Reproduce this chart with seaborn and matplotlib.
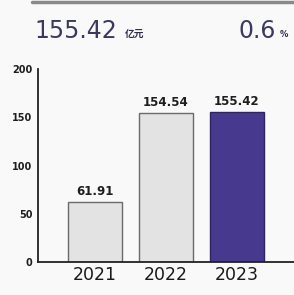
import matplotlib
matplotlib.use("Agg")
import matplotlib.pyplot as plt
import seaborn as sns
import pandas as pd

years = ["2021", "2022", "2023"]
values = [61.91, 154.54, 155.42]
value_labels = ["61.91", "154.54", "155.42"]
yticks = [0, 50, 100, 150, 200]
headline_value = "155.42"
headline_unit = "亿元"
growth_value = "0.6"
growth_unit = "%"

bar_colors = ["#e3e3e3", "#e3e3e3", "#47398e"]
edge_colors = ["#6a6a6a", "#6a6a6a", "#2e2560"]

sns.set_theme(style="white")
plt.rcParams['font.family'] = ['DejaVu Sans', 'Noto Sans CJK SC']

df = pd.DataFrame({"year": years, "value": values})

fig = plt.figure(figsize=(2.94, 2.95), dpi=100)
fig.patch.set_facecolor("#f9f9f9")
ax = fig.add_axes([38/294, 1 - 262/295, 1 - 38/294, 193/295])
ax.set_facecolor("none")

sns.barplot(data=df, x="year", y="value", hue="year", palette=bar_colors,
            legend=False, width=0.76, ax=ax, saturation=1)
for patch, ec in zip(ax.patches, edge_colors):
    patch.set_edgecolor(ec)
    patch.set_linewidth(1.0)

for i, (v, lab) in enumerate(zip(values, value_labels)):
    ax.text(i, v + 4, lab, ha="center", va="bottom", fontsize=8.5,
            color="#1e1e1e", fontweight="semibold")

ax.set_xlim(-0.80, 2.81)
ax.set_ylim(0, 200)
ax.set_yticks(yticks)
ax.set_yticklabels([str(t) for t in yticks], fontsize=7, fontweight="bold",
                   color="#1e1e1e")
ax.tick_params(axis="y", direction="out", length=3, width=1.2, color="#222222", pad=1)
ax.tick_params(axis="x", length=0, pad=3, labelsize=12.5, labelcolor="#1a1a1a")
for lab in ax.get_xticklabels():
    lab.set_fontweight("medium")
ax.set_xlabel("")
ax.set_ylabel("")
for s in ["top", "right"]:
    ax.spines[s].set_visible(False)
for s in ["left", "bottom"]:
    ax.spines[s].set_color("#222222")
    ax.spines[s].set_linewidth(1.3)

# header
fig.add_artist(plt.Line2D([32/294, 1], [1 - 1.5/295, 1 - 1.5/295], color="#8a8a8a", lw=2.5))
fig.text(34/294, 1 - 38/295, headline_value, fontsize=17, color="#3b3a5e",
         ha="left", va="baseline")
fig.text(125/294, 1 - 37/295, headline_unit, fontsize=7, color="#2f2e4e",
         ha="left", va="baseline", fontweight="bold",
         family=['Noto Sans CJK SC', 'DejaVu Sans'])
fig.text(238/294, 1 - 38/295, growth_value, fontsize=17, color="#3b3a5e",
         ha="left", va="baseline")
fig.text(280/294, 1 - 37/295, growth_unit, fontsize=6, color="#2f2e4e",
         ha="left", va="baseline", fontweight="bold")

fig.savefig("out.png", dpi=100, facecolor=fig.get_facecolor())
